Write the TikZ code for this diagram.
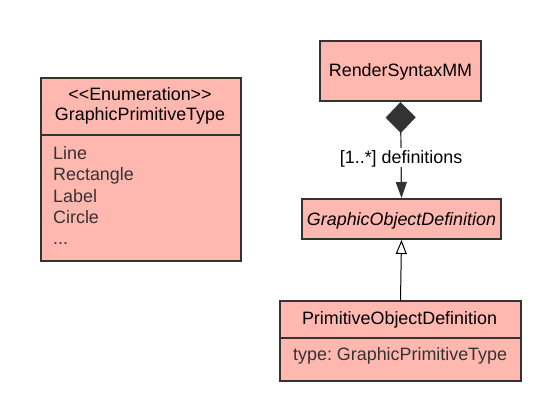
\documentclass[tikz,border=0pt]{standalone}
\usepackage{fontspec}
\setmainfont{Liberation Sans}
\usetikzlibrary{arrows.meta}
\definecolor{boxfill}{HTML}{FFB8B0}
\definecolor{boxline}{HTML}{333333}
\definecolor{attrtext}{HTML}{333333}
\frenchspacing
\begin{document}
\begin{tikzpicture}[x=1pt,y=-1pt,
  umlbox/.style={draw=boxline,fill=boxfill,line width=2pt,inner sep=0pt,anchor=north west},
  divider/.style={draw=boxline,line width=2pt},
  title/.style={font=\fontsize{17.9}{21}\selectfont,text=black,inner sep=0pt,text height=14.2pt,text depth=2.2pt},
  attr/.style={font=\fontsize{17.9}{21}\selectfont,text=attrtext,inner sep=0pt,anchor=west,text height=14.2pt,text depth=2.2pt},
  conn/.style={draw=boxline,line width=1.2pt}]
\useasboundingbox (0,0) rectangle (560,420);
% enumeration box
\node[umlbox,minimum width=200pt,minimum height=183pt] (enum) at (40,77) {};
\draw[divider] (40,135) -- (240,135);
\node[title] (enumst) at (140,94) {<{}<Enumeration>{}>};
\node[title] (enumname) at (140,115) {GraphicPrimitiveType};
\node[attr] (i1) at (53,153) {Line};
\node[attr] (i2) at (53,174.5) {Rectangle};
\node[attr] (i3) at (53,196) {Label};
\node[attr] (i4) at (53,217) {Circle};
\node[attr] (i5) at (53,238.5) {...};
% RenderSyntaxMM
\node[umlbox,minimum width=161pt,minimum height=60pt] (rsm) at (319,40) {};
\node[title] (rsmt) at (rsm.center) {RenderSyntaxMM};
% GraphicObjectDefinition
\node[umlbox,minimum width=199pt,minimum height=40pt] (god) at (301,198) {};
\node[title,font=\fontsize{17.9}{21}\selectfont\itshape] (godt) at (god.center) {GraphicObjectDefinition};
% PrimitiveObjectDefinition
\node[umlbox,minimum width=241pt,minimum height=80pt] (pod) at (279,300) {};
\draw[divider] (279,338) -- (520,338);
\node[title] (podt) at (399.5,318) {PrimitiveObjectDefinition};
\node[attr] (poda) at (293,354) {type: GraphicPrimitiveType};
% composition
\draw[conn,{Diamond[length=31pt,width=30pt,fill=boxline]}-{Triangle[length=16pt,width=11pt,fill=boxline]}]
  (rsm.south) -- node[pos=0.58,fill=white,inner sep=1pt,font=\fontsize{17.9}{21}\selectfont,text height=14.2pt,text depth=2.2pt] (lbl) {[1..*] definitions} (god.north);
% generalization
\draw[draw=black,line width=1pt,-{Triangle[open,length=14pt,width=11pt,fill=white]}] (pod.north) -- (god.south);
\end{tikzpicture}
\end{document}
